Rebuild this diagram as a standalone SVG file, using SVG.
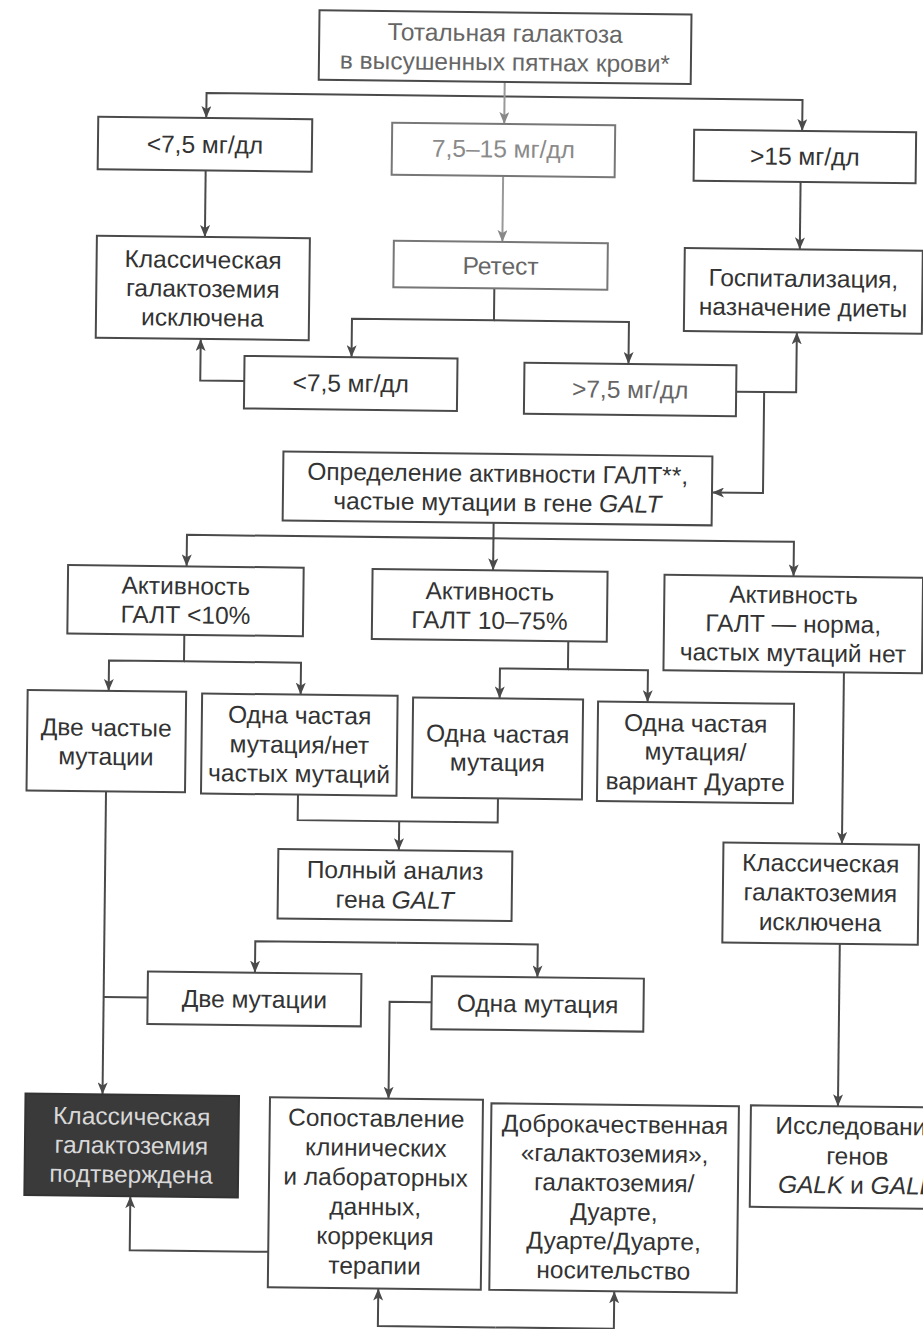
<svg xmlns="http://www.w3.org/2000/svg" width="923" height="1329" viewBox="0 0 923 1329">
<style>
.b{fill:#fff;stroke:#4a4a4a;stroke-width:2}
.bl{fill:#fff;stroke:#777;stroke-width:2}
.dk{fill:#3a3a3a;stroke:#333;stroke-width:2}
text{font-family:"Liberation Sans",Arial,sans-serif;font-size:24.5px;fill:#333;text-anchor:middle}
.tl{fill:#666}
.tll{fill:#8a8a8a}
.tw{fill:#d8d8d8}
.c{fill:none;stroke:#4a4a4a;stroke-width:2}
.cl{fill:none;stroke:#999;stroke-width:2}
.i{font-style:italic}
</style>
<defs>
<marker id="ah" viewBox="0 0 12 10" refX="12" refY="5" markerWidth="12" markerHeight="10" markerUnits="userSpaceOnUse" orient="auto">
<path d="M0,0 L12,5 L0,10 L3,5 z" fill="#4a4a4a"/>
</marker>
<marker id="ahl" viewBox="0 0 12 10" refX="12" refY="5" markerWidth="12" markerHeight="10" markerUnits="userSpaceOnUse" orient="auto">
<path d="M0,0 L12,5 L0,10 L3,5 z" fill="#888"/>
</marker>
</defs>
<rect width="923" height="1329" fill="#fff"/>
<g transform="rotate(0.66 461 664)">
<g id="connectors">
<path class="c" d="M498,96 H200 V121" marker-end="url(#ah)"/>
<path class="c" d="M498,96 H796 V127" marker-end="url(#ah)"/>
<path class="cl" d="M498,81.5 V123.5" marker-end="url(#ahl)"/>
<path class="c" d="M200,173.5 V240" marker-end="url(#ah)"/>
<path class="cl" d="M497.5,175.5 V241.5" marker-end="url(#ahl)"/>
<path class="c" d="M795,178 V245.5" marker-end="url(#ah)"/>
<path class="c" d="M490,288 V320 H348 V358.5" marker-end="url(#ah)"/>
<path class="c" d="M490,320 H625 V362" marker-end="url(#ah)"/>
<path class="c" d="M241,383.5 H197 V342" marker-end="url(#ah)"/>
<path class="c" d="M733,388.5 H793 V328.5" marker-end="url(#ah)"/>
<path class="c" d="M761,388.5 V489.5 H710" marker-end="url(#ah)"/>
<path class="c" d="M492,522.5 V538 H185.5 V569.5" marker-end="url(#ah)"/>
<path class="c" d="M492,538 V570" marker-end="url(#ah)"/>
<path class="c" d="M492,538 H792.5 V572.5" marker-end="url(#ah)"/>
<path class="c" d="M184,638 V664.5 H109 V695" marker-end="url(#ah)"/>
<path class="c" d="M184,664.5 H301 V696.5" marker-end="url(#ah)"/>
<path class="c" d="M568,640 V668 H500 V698" marker-end="url(#ah)"/>
<path class="c" d="M568,668 H648 V700" marker-end="url(#ah)"/>
<path class="c" d="M844,668 V839.5" marker-end="url(#ah)"/>
<path class="c" d="M299.5,796.5 V822 H499.5 V798"/>
<path class="c" d="M401,822 V851" marker-end="url(#ah)"/>
<path class="c" d="M400,943.5 H258.5 V975" marker-end="url(#ah)"/>
<path class="c" d="M400,943.5 H541 V976.5" marker-end="url(#ah)"/>
<path class="c" d="M107.5,795.5 V1098.5" marker-end="url(#ah)"/>
<path class="c" d="M151.5,1001 H107.5"/>
<path class="c" d="M435.5,1002.5 H393.5 V1099.5" marker-end="url(#ah)"/>
<path class="c" d="M275,1254 H136.5 V1200" marker-end="url(#ah)"/>
<path class="c" d="M503,1327 H385.5 V1289.5" marker-end="url(#ah)"/>
<path class="c" d="M503,1327 H621.5 V1289.5" marker-end="url(#ah)"/>
<path class="c" d="M843,939.5 V1102" marker-end="url(#ah)"/>
</g>
<g id="n_top"><rect class="b" x="312" y="12" width="372" height="69.5"/><text class="tl" x="498" y="41">Тотальная галактоза</text><text class="tl" x="498" y="70">в высушенных пятнах крови*</text></g>
<g id="n_lt75"><rect class="b" x="92" y="121" width="214" height="52.5"/><text x="199" y="156">&lt;7,5 мг/дл</text></g>
<g id="n_7515"><rect class="bl" x="386" y="123.5" width="223" height="52"/><text class="tll" x="497.5" y="157">7,5–15 мг/дл</text></g>
<g id="n_gt15"><rect class="b" x="688" y="127" width="222" height="51"/><text x="799" y="161">&gt;15 мг/дл</text></g>
<g id="n_excl1"><rect class="b" x="92" y="240" width="213" height="102"/><text x="198.5" y="271">Классическая</text><text x="198.5" y="300">галактоземия</text><text x="198.5" y="329">исключена</text></g>
<g id="n_retest"><rect class="bl" x="389" y="241.5" width="214" height="46.5"/><text class="tl" x="496" y="274">Ретест</text></g>
<g id="n_hosp"><rect class="b" x="680" y="245.5" width="238" height="83"/><text x="799" y="283">Госпитализация,</text><text x="799" y="312">назначение диеты</text></g>
<g id="n_lt75b"><rect class="b" x="241" y="358.5" width="213" height="52.5"/><text x="347.5" y="393">&lt;7,5 мг/дл</text></g>
<g id="n_gt75b"><rect class="b" x="521" y="362" width="212" height="51"/><text class="tl" x="627" y="396">&gt;7,5 мг/дл</text></g>
<g id="n_galt"><rect class="b" x="281" y="453.5" width="429" height="69"/><text x="495.5" y="481.5">Определение активности ГАЛТ**,</text><text x="495.5" y="510.5">частые мутации в гене <tspan class="i">GALT</tspan></text></g>
<g id="n_act10"><rect class="b" x="67" y="569.5" width="235.6" height="68.5"/><text x="185" y="597.5">Активность</text><text x="185" y="626.5">ГАЛТ &lt;10%</text></g>
<g id="n_act1075"><rect class="b" x="371.5" y="570" width="235" height="70"/><text x="489" y="599.5">Активность</text><text x="489" y="628.5">ГАЛТ 10–75%</text></g>
<g id="n_actnorm"><rect class="b" x="663.5" y="572.5" width="258.5" height="95.5"/><text x="792.75" y="599.5">Активность</text><text x="792.75" y="628.5">ГАЛТ — норма,</text><text x="792.75" y="657.5">частых мутаций нет</text></g>
<g id="n_two_common"><rect class="b" x="28" y="695" width="158.5" height="100.5"/><text x="107" y="740">Две частые</text><text x="107" y="769">мутации</text></g>
<g id="n_one_none"><rect class="b" x="202.5" y="696.5" width="195.5" height="100"/><text x="300.3" y="725.5">Одна частая</text><text x="300.3" y="755">мутация/нет</text><text x="300.3" y="784">частых мутаций</text></g>
<g id="n_one_common"><rect class="b" x="413.5" y="698" width="170" height="100"/><text x="498.5" y="742">Одна частая</text><text x="498.5" y="770.5">мутация</text></g>
<g id="n_one_duarte"><rect class="b" x="598.5" y="700" width="196" height="99.5"/><text x="696.5" y="729">Одна частая</text><text x="696.5" y="757.5">мутация/</text><text x="696.5" y="787.5">вариант Дуарте</text></g>
<g id="n_full"><rect class="b" x="280.5" y="851" width="234" height="69.5"/><text x="397.5" y="879.5">Полный анализ</text><text x="397.5" y="909">гена <tspan class="i">GALT</tspan></text></g>
<g id="n_excl2"><rect class="b" x="725.5" y="839.5" width="195.5" height="100"/><text x="823" y="867.5">Классическая</text><text x="823" y="897">галактоземия</text><text x="823" y="926.5">исключена</text></g>
<g id="n_two_mut"><rect class="b" x="151.5" y="975" width="213.5" height="52.5"/><text x="258.25" y="1010">Две мутации</text></g>
<g id="n_one_mut"><rect class="b" x="435.5" y="976.5" width="212" height="53"/><text x="541.5" y="1011.5">Одна мутация</text></g>
<g id="n_confirmed"><rect class="dk" x="30.5" y="1098.5" width="213.5" height="101.5"/><text class="tw" x="137" y="1128.5">Классическая</text><text class="tw" x="137" y="1157.5">галактоземия</text><text class="tw" x="137" y="1186.5">подтверждена</text></g>
<g id="n_compare"><rect class="b" x="275" y="1099.5" width="213" height="190"/><text x="381.5" y="1127.5">Сопоставление</text><text x="381.5" y="1157">клинических</text><text x="381.5" y="1186.5">и лабораторных</text><text x="381.5" y="1216">данных,</text><text x="381.5" y="1245.5">коррекция</text><text x="381.5" y="1275">терапии</text></g>
<g id="n_benign"><rect class="b" x="496.5" y="1103" width="247.5" height="186.5"/><text x="620.25" y="1131">Доброкачественная</text><text x="620.25" y="1160.2">«галактоземия»,</text><text x="620.25" y="1189.4">галактоземия/</text><text x="620.25" y="1218.6">Дуарте,</text><text x="620.25" y="1247.8">Дуарте/Дуарте,</text><text x="620.25" y="1277">носительство</text></g>
<g id="n_study"><rect class="b" x="756" y="1102" width="214" height="101.5"/><text x="863" y="1130">Исследование</text><text x="863" y="1160">генов</text><text x="863" y="1189"><tspan class="i">GALK</tspan> и <tspan class="i">GALE</tspan></text></g>
</g>
</svg>
